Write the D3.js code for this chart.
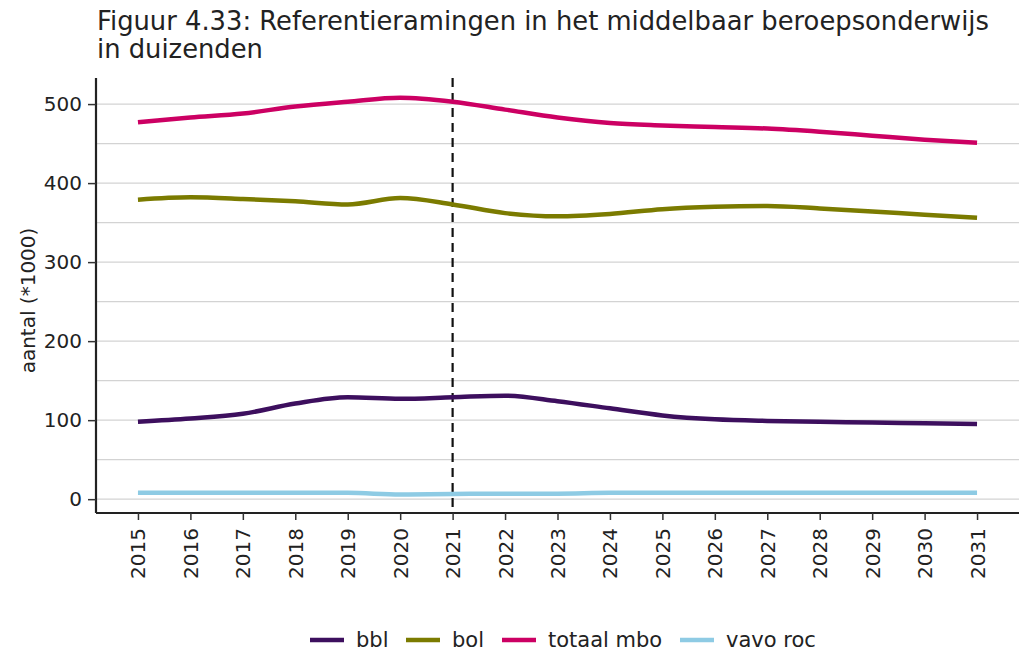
<!DOCTYPE html>
<html><head><meta charset="utf-8">
<script src="https://cdn.jsdelivr.net/npm/d3@7/dist/d3.min.js"></script>
<style>body{margin:0;background:#fff}svg{display:block}</style>
</head><body>
<svg id="c" width="1021" height="651"></svg>
<script>
const years = [2015,2016,2017,2018,2019,2020,2021,2022,2023,2024,2025,2026,2027,2028,2029,2030,2031];
const totaalMbo = [477,483,488,497,503,508,503,493,483,476,473,471,469,465,460,455,451];
const bol = [379,382,380,377,373,381,373,362,358,361,367,370,371,368,364,360,356];
const bbl = [98,102,108,121,129,127,129,131,124,115,106,101,99,98,97,96,95];
const vavoRoc = [8,8,8,8,8,6,6.5,7,7,8,8,8,8,8,8,8,8];
const seriesNames = ["bbl","bol","totaal mbo","vavo roc"];
const seriesColors = ["#3d0f5e","#7b7b00","#cc0063","#8ecbe4"];
const yTicks = [0,100,200,300,400,500];
const yMinor = [50,150,250,350,450];
const refYear = 2021;
const titleLines = ["Figuur 4.33: Referentieramingen in het middelbaar beroepsonderwijs","in duizenden"];
const yLabel = "aantal (*1000)";

const seriesData = [bbl, bol, totaalMbo, vavoRoc];
const svg = d3.select("#c");
const font = "DejaVu Sans, Verdana, sans-serif";
const fs = 20;
const L = 96, R = 1019, T = 78, B = 513;
const x = d3.scaleLinear().domain([2015-0.8, 2031+0.8]).range([L, R]);
const y = d3.scaleLinear().domain([-17.5, 533]).range([B, T]);

// title
const tt = svg.append("text").attr("font-family", font).attr("font-size", 25.8).attr("fill", "#222");
tt.selectAll("tspan").data(titleLines).join("tspan")
  .attr("x", 97).attr("y", (d,i)=> 30 + i*28).text(d=>d);

// grid
svg.append("g").selectAll("line").data(yMinor.concat(yTicks)).join("line")
  .attr("x1", L).attr("x2", R).attr("y1", d=>y(d)).attr("y2", d=>y(d))
  .attr("stroke", "#d3d3d3").attr("stroke-width", 1.3);

// reference line
svg.append("line").attr("x1", x(refYear)).attr("x2", x(refYear)).attr("y1", T).attr("y2", B)
  .attr("stroke", "#111").attr("stroke-width", 2.2).attr("stroke-dasharray", "9,6");

// lines
const line = d3.line().x((d,i)=>x(years[i])).y(d=>y(d)).curve(d3.curveMonotoneX);
svg.append("g").selectAll("path").data(seriesData).join("path")
  .attr("d", d=>line(d)).attr("fill", "none")
  .attr("stroke", (d,i)=>seriesColors[i]).attr("stroke-width", 4.5)
  .attr("stroke-linecap", "butt").attr("stroke-linejoin", "round");

// axes
const yAxis = svg.append("g").attr("transform", `translate(${L},0)`)
  .call(d3.axisLeft(y).tickValues(yTicks).tickSize(8).tickPadding(6));
const xAxis = svg.append("g").attr("transform", `translate(0,${B})`)
  .call(d3.axisBottom(x).tickValues(years).tickFormat(d3.format("d")).tickSize(7).tickPadding(5));
[yAxis, xAxis].forEach(a=>{
  a.select(".domain").attr("stroke", "#222").attr("stroke-width", 2.2);
  a.selectAll(".tick line").attr("stroke", "#333").attr("stroke-width", 1.5);
  a.selectAll("text").attr("font-family", font).attr("font-size", fs).attr("fill", "#222");
});
yAxis.select(".domain").attr("d", `M0,${T}V${B}`);
xAxis.select(".domain").attr("d", `M${L},0H${R}`);
xAxis.selectAll(".tick text")
  .attr("transform", "rotate(-90)").attr("text-anchor", "end")
  .attr("x", -15).attr("y", 0).attr("dy", "0.35em");

// y label
svg.append("text").attr("transform", `translate(35,${(T+B)/2+5}) rotate(-90)`)
  .attr("text-anchor", "middle").attr("font-family", font).attr("font-size", fs)
  .attr("fill", "#222").text(yLabel);

// legend
const legX = [310, 406, 502, 680];
const lg = svg.append("g").selectAll("g").data(seriesNames).join("g")
  .attr("transform", (d,i)=>`translate(${legX[i]},640)`);
lg.append("line").attr("x1", 0).attr("x2", 34).attr("stroke", (d,i)=>seriesColors[i]).attr("stroke-width", 4.5);
lg.append("text").attr("x", 46).attr("dy", "0.35em").attr("font-family", font).attr("font-size", 21)
  .attr("fill", "#222").text(d=>d);
</script>
</body></html>
